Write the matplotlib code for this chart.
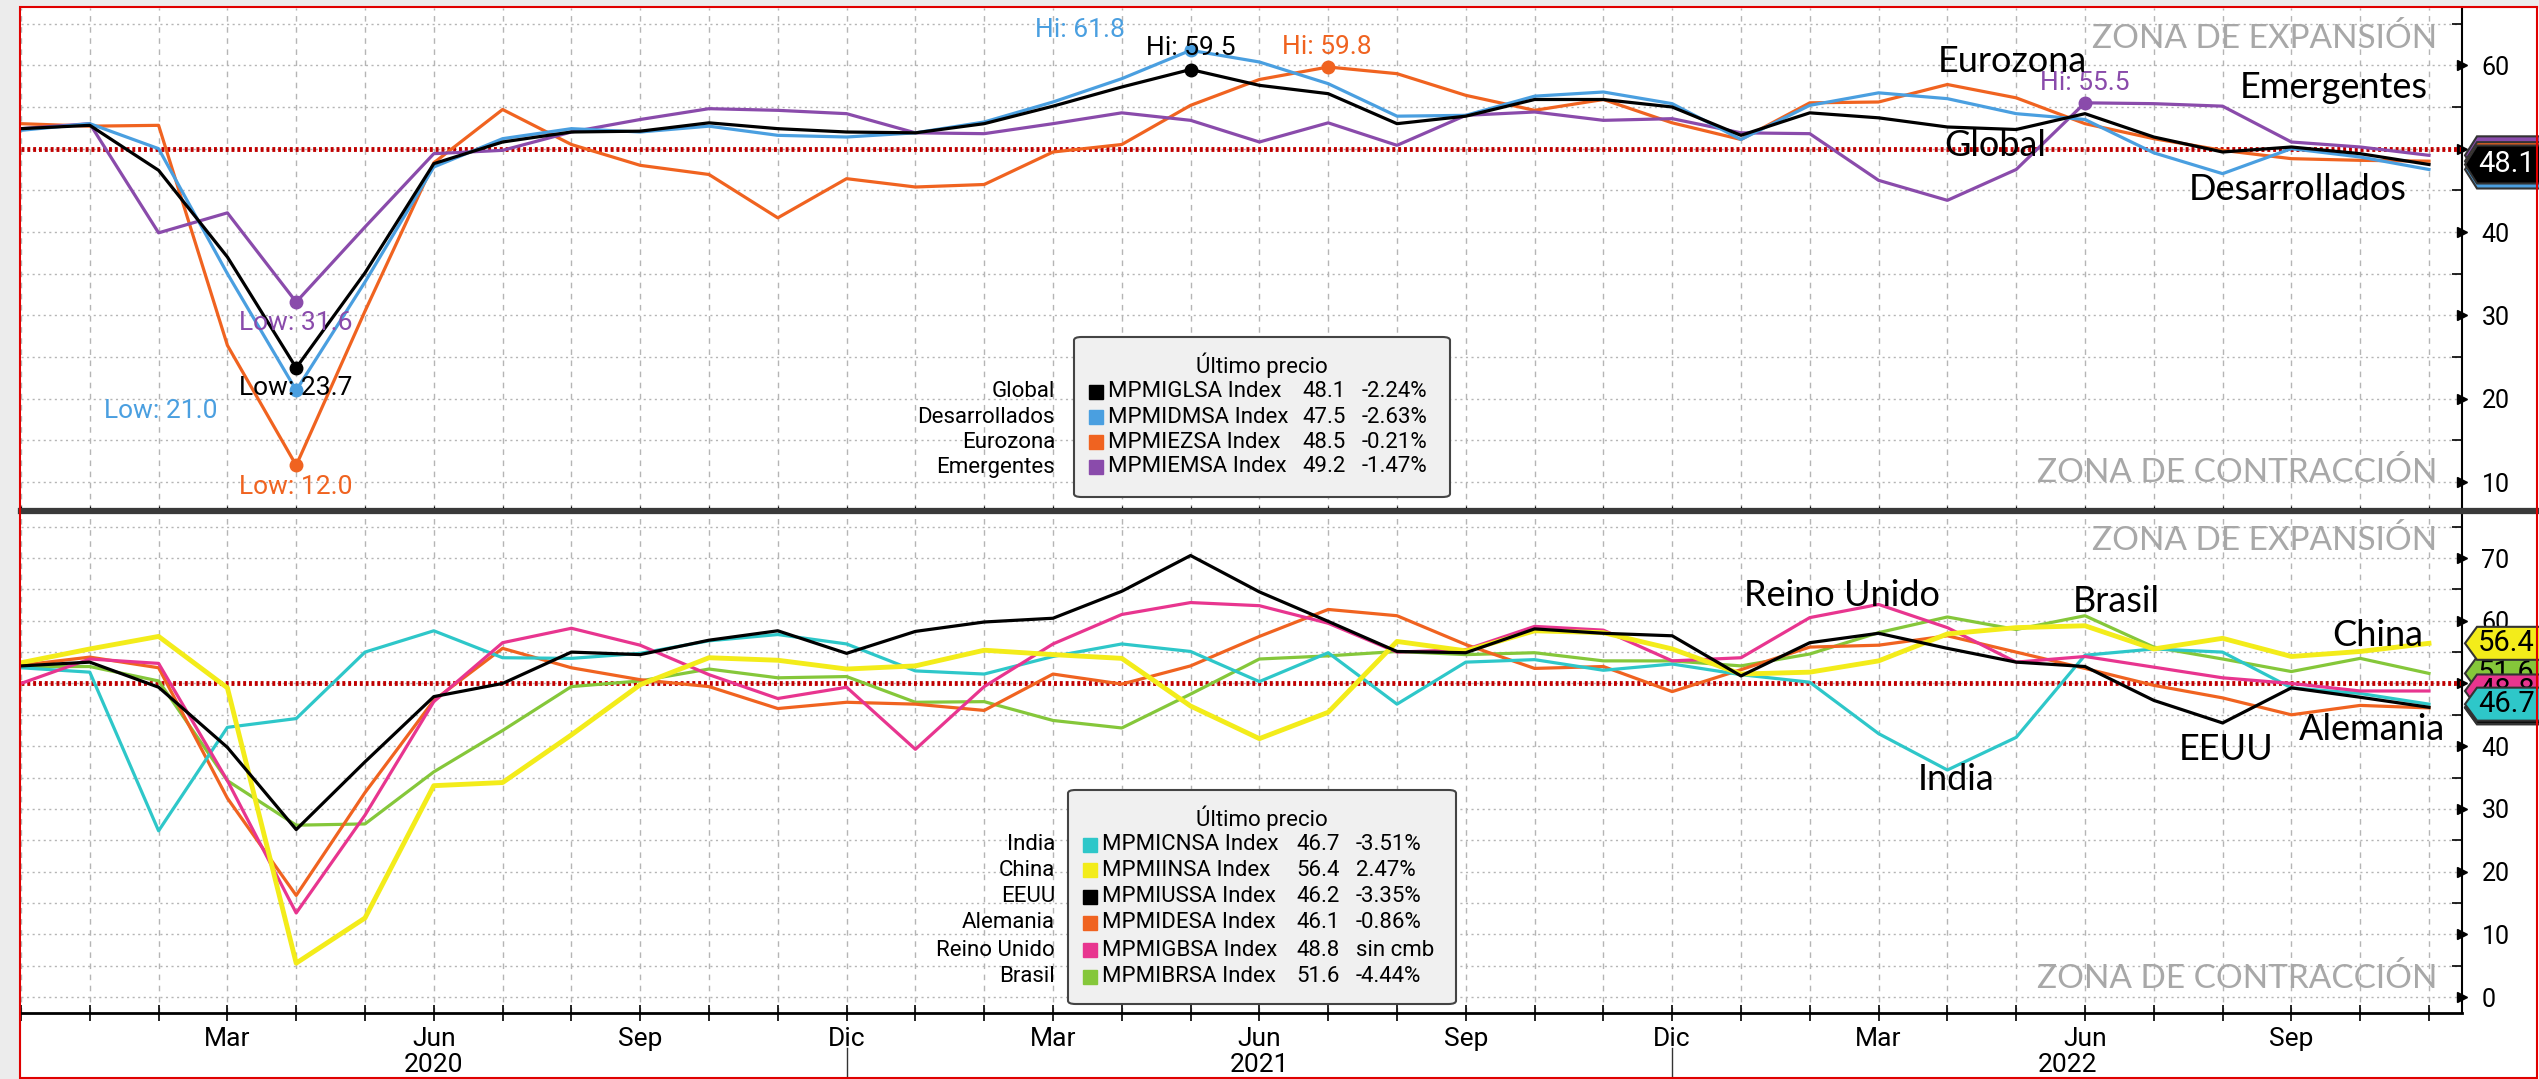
import matplotlib
matplotlib.use("Agg")
import matplotlib.pyplot as plt
from matplotlib.patches import Polygon, Rectangle, FancyBboxPatch
from matplotlib.lines import Line2D

W, H = 2539, 1079

# --- datos: PMI servicios, dic-2019 .. nov-2022 (36 meses) ---
meses = ['Dic', 'Ene', 'Feb', 'Mar', 'Abr', 'May', 'Jun', 'Jul', 'Ago', 'Sep', 'Oct', 'Nov'] * 3
years = ['2020', '2021', '2022']

global_pmi = [52.4, 52.8, 47.4, 37.0, 23.7, 35.1, 48.2, 50.8, 52.0, 52.1, 53.1, 52.4,
              52.0, 51.9, 53.0, 55.1, 57.4, 59.5, 57.6, 56.6, 53.0, 53.9, 55.9, 55.9,
              55.0, 51.6, 54.3, 53.7, 52.6, 52.3, 54.2, 51.4, 49.6, 50.2, 49.4, 48.1]
desarrollados = [52.2, 53.0, 50.0, 35.0, 21.0, 34.0, 47.8, 51.2, 52.4, 52.0, 52.7, 51.6,
                 51.4, 51.9, 53.2, 55.6, 58.4, 61.8, 60.4, 57.8, 53.9, 54.0, 56.3, 56.8,
                 55.4, 51.1, 55.2, 56.7, 56.0, 54.2, 53.5, 49.5, 47.0, 50.0, 49.0, 47.5]
eurozona = [53.0, 52.7, 52.8, 26.4, 12.0, 30.5, 48.3, 54.7, 50.5, 48.0, 46.9, 41.7,
            46.4, 45.4, 45.7, 49.6, 50.5, 55.2, 58.3, 59.8, 59.0, 56.4, 54.6, 55.9,
            53.1, 51.1, 55.5, 55.6, 57.7, 56.1, 53.0, 51.2, 49.8, 48.8, 48.6, 48.5]
emergentes = [52.4, 53.0, 39.9, 42.3, 31.6, 40.6, 49.4, 49.8, 52.0, 53.5, 54.8, 54.6,
              54.2, 51.9, 51.8, 53.0, 54.3, 53.4, 50.8, 53.1, 50.4, 54.0, 54.4, 53.4,
              53.6, 51.9, 51.8, 46.2, 43.8, 47.5, 55.5, 55.4, 55.1, 50.8, 50.2, 49.2]

india = [52.5, 51.8, 26.5, 43.0, 44.4, 55.0, 58.4, 54.1, 54.0, 54.8, 56.8, 57.8,
         56.3, 52.0, 51.5, 54.3, 56.3, 55.1, 50.3, 54.9, 46.7, 53.4, 53.8, 52.1,
         53.1, 51.4, 50.2, 42.0, 36.2, 41.4, 54.5, 55.5, 55.0, 49.3, 48.4, 46.7]
china = [53.3, 55.5, 57.5, 49.3, 5.4, 12.6, 33.7, 34.2, 41.8, 49.8, 54.1, 53.7,
         52.3, 52.8, 55.3, 54.6, 54.0, 46.4, 41.2, 45.4, 56.7, 55.2, 58.4, 58.1,
         55.5, 51.5, 51.8, 53.6, 57.9, 58.9, 59.2, 55.5, 57.2, 54.3, 55.1, 56.4]
eeuu = [52.8, 53.4, 49.4, 39.8, 26.7, 37.5, 47.9, 50.0, 55.0, 54.6, 56.9, 58.4,
        54.8, 58.3, 59.8, 60.4, 64.7, 70.4, 64.6, 59.9, 55.1, 54.9, 58.7, 58.0,
        57.6, 51.2, 56.5, 58.0, 55.6, 53.4, 52.7, 47.3, 43.7, 49.3, 47.8, 46.2]
alemania = [52.9, 54.2, 52.5, 31.7, 16.2, 32.6, 47.3, 55.6, 52.5, 50.6, 49.5, 46.0,
            47.0, 46.7, 45.7, 51.5, 49.9, 52.8, 57.5, 61.8, 60.8, 56.2, 52.4, 52.7,
            48.7, 52.2, 55.8, 56.1, 57.6, 55.0, 52.4, 49.7, 47.7, 45.0, 46.5, 46.1]
reino_unido = [50.0, 53.9, 53.2, 34.5, 13.4, 29.0, 47.1, 56.5, 58.8, 56.1, 51.4, 47.6,
               49.4, 39.5, 49.5, 56.3, 61.0, 62.9, 62.4, 59.6, 55.0, 55.4, 59.1, 58.5,
               53.6, 54.1, 60.5, 62.6, 58.9, 53.4, 54.3, 52.6, 50.9, 50.0, 48.8, 48.8]
brasil = [52.7, 52.7, 50.4, 34.5, 27.4, 27.6, 35.9, 42.5, 49.5, 50.4, 52.3, 50.9,
          51.1, 47.0, 47.1, 44.1, 42.9, 48.3, 53.9, 54.4, 55.1, 54.6, 54.9, 53.6,
          53.6, 52.8, 54.7, 58.1, 60.6, 58.6, 60.8, 55.8, 53.9, 51.9, 54.0, 51.6]

top_names = ['Global', 'Desarrollados', 'Eurozona', 'Emergentes']
top_tickers = ['MPMIGLSA Index', 'MPMIDMSA Index', 'MPMIEZSA Index', 'MPMIEMSA Index']
top_last = ['48.1', '47.5', '48.5', '49.2']
top_chg = ['-2.24%', '-2.63%', '-0.21%', '-1.47%']

bot_names = ['India', 'China', 'EEUU', 'Alemania', 'Reino Unido', 'Brasil']
bot_tickers = ['MPMICNSA Index', 'MPMIINSA Index', 'MPMIUSSA Index', 'MPMIDESA Index',
               'MPMIGBSA Index', 'MPMIBRSA Index']
bot_last = ['46.7', '56.4', '46.2', '46.1', '48.8', '51.6']
bot_chg = ['-3.51%', '2.47%', '-3.35%', '-0.86%', 'sin cmb', '-4.44%']

# colores
C_BLACK = '#000000'
C_BLUE = '#4a9fe0'
C_ORANGE = '#f06320'
C_PURPLE = '#8a4bab'
C_CYAN = '#2ec7c9'
C_YELLOW = '#f3ec1a'
C_MAGENTA = '#e8358f'
C_GREEN = '#85c73a'

NARROW = ['Roboto', 'DejaVu Sans']
CAL = ['Lato', 'DejaVu Sans']
plt.rcParams['font.family'] = NARROW

x = list(range(len(global_pmi)))
XMAX = 35.48


def fx(px):
    return px / W


def fy(py):
    return 1 - py / H


fig = plt.figure(figsize=(W / 100, H / 100), dpi=100)
fig.patch.set_facecolor('white')

# fondo gris fuera del marco
fig.add_artist(Rectangle((0, 0), fx(20), 1, transform=fig.transFigure, color='#ececec', zorder=0))
fig.add_artist(Rectangle((0, fy(7)), 1, 1 - fy(7), transform=fig.transFigure, color='#ececec', zorder=0))

ax1 = fig.add_axes([fx(21), fy(510), fx(2462 - 21), (510 - 8) / H])
ax2 = fig.add_axes([fx(21), fy(1013), fx(2462 - 21), (1013 - 511) / H])


def style_axis(ax, ylo, yhi, majors, minors):
    ax.set_xlim(0, XMAX)
    ax.set_ylim(ylo, yhi)
    ax.yaxis.tick_right()
    ax.set_yticks(majors)
    ax.set_yticks(minors, minor=True)
    ax.set_yticklabels([str(v) for v in majors], fontsize=18)
    ax.tick_params(axis='y', which='major', length=0, pad=14)
    ax.tick_params(axis='y', which='minor', length=7, width=1.2, direction='in')
    for v in minors + majors:
        ax.axhline(v, color='#b5b5b5', lw=1, ls=(0, (1.5, 2.5)), zorder=1)
    for i in x:
        ax.axvline(i, color='#b5b5b5', lw=1, ls=(0, (4, 4)), zorder=1)
    ax.plot([1.0] * len(majors), majors, marker='>', ms=7, color='black', ls='none',
            transform=ax.get_yaxis_transform(), clip_on=False)
    for s in ['top', 'left']:
        ax.spines[s].set_visible(False)
    ax.spines['right'].set_linewidth(1.5)
    ax.axhline(50, color='#c00000', lw=3.5, ls=(0, (0.6, 0.6)), zorder=2)


style_axis(ax1, 6.64, 66.88, [10, 20, 30, 40, 50, 60], [15, 25, 35, 45, 55, 65])
style_axis(ax2, -2.55, 77.5, [0, 10, 20, 30, 40, 50, 60, 70], [5, 15, 25, 35, 45, 55, 65, 75])
ax1.spines['bottom'].set_visible(False)
ax1.set_xticks(x)
ax1.tick_params(axis='x', length=6, direction='inout', labelbottom=False)
ax2.spines['bottom'].set_linewidth(2)
ax2.set_xticks(x)
ax2.set_xticklabels([m if i % 3 == 0 and i > 0 else '' for i, m in enumerate(meses)], fontsize=19)
ax2.tick_params(axis='x', length=12, width=1.2, direction='inout', pad=4)

# --- panel superior ---
ax1.plot(x, eurozona, color=C_ORANGE, lw=2.3, zorder=3)
ax1.plot(x, emergentes, color=C_PURPLE, lw=2.3, zorder=3)
ax1.plot(x, desarrollados, color=C_BLUE, lw=2.3, zorder=4)
ax1.plot(x, global_pmi, color=C_BLACK, lw=2.3, zorder=5)

marks = [
    (global_pmi, 'min', C_BLACK, 'Low: 23.7', 296, 388),
    (desarrollados, 'min', C_BLUE, 'Low: 21.0', 161, 411),
    (eurozona, 'min', C_ORANGE, 'Low: 12.0', 296, 487),
    (emergentes, 'min', C_PURPLE, 'Low: 31.6', 296, 323),
    (desarrollados, 'max', C_BLUE, 'Hi: 61.8', 1080, 30),
    (global_pmi, 'max', C_BLACK, 'Hi: 59.5', 1191, 48),
    (eurozona, 'max', C_ORANGE, 'Hi: 59.8', 1327, 47),
    (emergentes, 'max', C_PURPLE, 'Hi: 55.5', 2085, 83),
]
for serie, kind, col, lab, tx, ty in marks:
    v = min(serie) if kind == 'min' else max(serie)
    i = serie.index(v)
    ax1.plot(i, v, 'o', ms=9, color=col, zorder=6)
    fig.text(fx(tx), fy(ty), lab, color=col, fontsize=19, ha='center', va='center')

# --- panel inferior ---
ax2.plot(x, brasil, color=C_GREEN, lw=2.3, zorder=3)
ax2.plot(x, alemania, color=C_ORANGE, lw=2.3, zorder=3)
ax2.plot(x, india, color=C_CYAN, lw=2.3, zorder=3)
ax2.plot(x, reino_unido, color=C_MAGENTA, lw=2.3, zorder=4)
ax2.plot(x, china, color=C_YELLOW, lw=3.5, zorder=4)
ax2.plot(x, eeuu, color=C_BLACK, lw=2.3, zorder=5)

# separador entre paneles
fig.add_artist(Line2D([fx(21), fx(2539)], [fy(510.5), fy(510.5)], color='#3a3a3a', lw=4.5))

# zonas
for yy in [38, 541]:
    fig.text(fx(2437), fy(yy), 'ZONA DE EXPANSIÓN', color='#a8a8a8', fontsize=24,
             ha='right', va='center', family=CAL)
for yy in [472, 978]:
    fig.text(fx(2437), fy(yy), 'ZONA DE CONTRACCIÓN', color='#a8a8a8', fontsize=24,
             ha='right', va='center', family=CAL)

# etiquetas de series
series_labels = [
    ('Eurozona', 2012, 62), ('Emergentes', 2334, 88), ('Global', 1995, 145),
    ('Desarrollados', 2298, 190),
    ('Reino Unido', 1842, 596), ('Brasil', 2116, 602), ('China', 2378, 636),
    ('India', 1956, 780), ('EEUU', 2226, 750), ('Alemania', 2372, 730),
]
for t, px, py in series_labels:
    fig.text(fx(px), fy(py), t, fontsize=26, ha='center', va='center', family=CAL)

# años y separadores
for yr, a, b in [(years[0], 0, 12), (years[1], 12, 24), (years[2], 24, XMAX)]:
    xc = (a + b) / 2
    xf = fig.transFigure.inverted().transform(ax2.transData.transform((xc, 0)))[0]
    fig.text(xf, fy(1065), yr, fontsize=19, ha='center', va='center')
for i in [12, 24]:
    xf = fig.transFigure.inverted().transform(ax2.transData.transform((i, 0)))[0]
    fig.add_artist(Line2D([xf, xf], [fy(1048), 0], color='#333333', lw=1))


def legend_box(x0, y0, x1, y1, ty, rows, names, tickers, last, chg, colors):
    fig.add_artist(FancyBboxPatch((fx(x0), fy(y1)), fx(x1 - x0), (y1 - y0) / H,
                                  boxstyle='round,pad=0,rounding_size=0.003',
                                  transform=fig.transFigure, facecolor='#f0f0f0',
                                  edgecolor='#444444', lw=1.5, zorder=10))
    fig.text(fx((x0 + x1) / 2), fy(ty), 'Último precio', fontsize=16, ha='center',
             va='center', zorder=11)
    for ry, n, tk, l, c, col in zip(rows, names, tickers, last, chg, colors):
        fig.add_artist(Rectangle((fx(x0 + 15), fy(ry + 7)), fx(14), 14 / H,
                                 transform=fig.transFigure, color=col, zorder=11))
        fig.text(fx(x0 + 34), fy(ry), tk, fontsize=16, va='center', zorder=11)
        fig.text(fx(x0 + 228), fy(ry), l, fontsize=16, va='center', zorder=11)
        fig.text(fx(x0 + 288), fy(ry), c, fontsize=16, va='center', zorder=11)
        fig.text(fx(1055), fy(ry), n, fontsize=16, va='center', ha='right', zorder=11)


legend_box(1074, 337, 1450, 497, 365, [392, 417, 442, 467], top_names, top_tickers,
           top_last, top_chg, [C_BLACK, C_BLUE, C_ORANGE, C_PURPLE])
legend_box(1068, 790, 1456, 1004, 818, [845, 870, 897, 923, 950, 977], bot_names,
           bot_tickers, bot_last, bot_chg,
           [C_CYAN, C_YELLOW, C_BLACK, C_ORANGE, C_MAGENTA, C_GREEN])


# etiquetas de ultimo valor a la derecha, apiladas: cada una tapa a la anterior
def tag(ax, v, face, txt, tcol, h, z):
    yd = ax.transData.transform((0, v))[1]
    x0 = 2465
    pts = [(x0, yd), (x0 + 12, yd + h / 2), (2560, yd + h / 2), (2560, yd - h / 2),
           (x0 + 12, yd - h / 2)]
    pts = [(px / W, py / H) for px, py in pts]
    fig.add_artist(Polygon(pts, closed=True, transform=fig.transFigure, facecolor=face,
                           edgecolor='#333333', lw=1.5, zorder=z))
    if txt:
        fig.text(fx(2478), yd / H, txt, color=tcol, fontsize=21, va='center', zorder=z + 0.05)


tag(ax1, 49.2, C_PURPLE, '', 'white', 38, 12.0)
tag(ax1, 48.5, C_ORANGE, '', 'white', 38, 12.1)
tag(ax1, 47.5, C_BLUE, '', 'white', 38, 12.2)
tag(ax1, 48.1, C_BLACK, top_last[0], 'white', 38, 12.3)
tag(ax2, 46.1, C_ORANGE, '', 'black', 33, 12.0)
tag(ax2, 46.2, C_BLACK, '', 'white', 33, 12.1)
tag(ax2, 51.6, C_GREEN, bot_last[5], 'black', 33, 12.2)
tag(ax2, 48.8, C_MAGENTA, bot_last[4], 'black', 33, 12.3)
tag(ax2, 46.7, C_CYAN, bot_last[0], 'black', 33, 12.4)
tag(ax2, 56.4, C_YELLOW, bot_last[1], 'black', 33, 12.5)

# marco rojo
fig.add_artist(Rectangle((fx(20), 0.001), fx(2537 - 20), fy(7) - 0.001, transform=fig.transFigure,
                         fill=False, edgecolor='#e00000', lw=1.5, zorder=20))

fig.savefig('out.png', dpi=100)
